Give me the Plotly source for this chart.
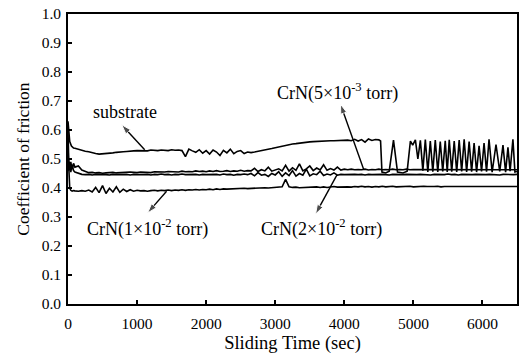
import plotly.graph_objects as go

# ---------------- data ----------------
sub_time = [0, 10, 25, 50, 80] + list(range(100, 4501, 50)) + [
    4525, 4545, 4600, 4650, 4712, 4770, 4850, 4910, 4957, 4990,
    5029, 5065, 5101, 5137, 5173, 5209, 5245, 5281, 5317, 5353,
    5389, 5425, 5461, 5490, 5519, 5555, 5591, 5627, 5663, 5699,
    5735, 5771, 5807, 5843, 5879, 5915, 5951, 5987, 6023, 6059,
    6095, 6140, 6196, 6250, 6297, 6335, 6369, 6400, 6441, 6470, 6500]
sub_cof = [0.63, 0.60, 0.56, 0.545, 0.538,
    0.537, 0.533, 0.531, 0.527, 0.525, 0.521, 0.519, 0.517, 0.518, 0.519,
    0.518, 0.521, 0.523, 0.523, 0.525, 0.526, 0.526, 0.528, 0.529,
    0.529, 0.530, 0.528, 0.531, 0.530, 0.529, 0.531, 0.530, 0.529, 0.532,
    0.530, 0.531, 0.529, 0.508, 0.534, 0.528, 0.523, 0.532, 0.520, 0.529,
    0.517, 0.531, 0.524, 0.512, 0.530, 0.521, 0.534, 0.518, 0.526, 0.529,
    0.519, 0.524, 0.522, 0.524, 0.526, 0.528, 0.531, 0.534, 0.536, 0.539,
    0.542, 0.545, 0.547, 0.550, 0.552, 0.553, 0.555, 0.556, 0.558, 0.559,
    0.560, 0.561, 0.561, 0.562, 0.562, 0.563, 0.563, 0.564, 0.564, 0.565,
    0.565, 0.563, 0.568, 0.562, 0.567, 0.558, 0.569, 0.564, 0.567, 0.566,
    0.562, 0.455, 0.452, 0.458, 0.565, 0.455, 0.452, 0.458, 0.562, 0.548,
    0.566, 0.500, 0.564, 0.460, 0.567, 0.455, 0.562, 0.456, 0.565, 0.455,
    0.560, 0.457, 0.563, 0.455, 0.566, 0.456, 0.562, 0.455, 0.565, 0.457,
    0.568, 0.455, 0.560, 0.456, 0.555, 0.455, 0.545, 0.457, 0.555, 0.456,
    0.568, 0.455, 0.550, 0.457, 0.548, 0.455, 0.540, 0.458, 0.568, 0.455, 0.457]

crn_time = [0, 10, 25, 40, 60, 80] + list(range(100, 6501, 50))

crn5_cof = [0.60, 0.50, 0.47, 0.49, 0.465, 0.485,
    0.472, 0.476, 0.462, 0.457, 0.453, 0.454, 0.452, 0.453, 0.451, 0.452,
    0.453, 0.454, 0.452, 0.453, 0.454, 0.453, 0.455, 0.454, 0.453,
    0.455, 0.454, 0.455, 0.453, 0.456, 0.455, 0.456, 0.455, 0.457, 0.456,
    0.457, 0.455, 0.458, 0.456, 0.457, 0.456, 0.459, 0.457, 0.458, 0.456,
    0.459, 0.457, 0.460, 0.457, 0.458, 0.460, 0.457, 0.459, 0.458, 0.461,
    0.458, 0.460, 0.459, 0.468, 0.457, 0.463, 0.459, 0.472, 0.458, 0.462,
    0.466, 0.459, 0.478, 0.458, 0.470, 0.461, 0.483, 0.459, 0.466, 0.476,
    0.460, 0.469, 0.462, 0.480, 0.461, 0.467, 0.462, 0.472, 0.462, 0.465,
    0.463, 0.465, 0.463, 0.464, 0.463, 0.465, 0.462, 0.464, 0.463, 0.465,
    0.463, 0.464, 0.463, 0.465, 0.463, 0.464, 0.463, 0.465, 0.463, 0.464,
    0.464, 0.463, 0.465, 0.463, 0.464, 0.463, 0.464, 0.465, 0.463, 0.464,
    0.463, 0.464, 0.465, 0.463, 0.464, 0.463, 0.464, 0.463, 0.465, 0.464,
    0.463, 0.464, 0.463, 0.465, 0.463, 0.464, 0.463, 0.464, 0.465, 0.463]

crn2_cof = [0.55, 0.46, 0.485, 0.455, 0.48, 0.46,
    0.455, 0.450, 0.447, 0.446, 0.447, 0.445, 0.447, 0.446, 0.447, 0.446,
    0.445, 0.447, 0.446, 0.447, 0.446, 0.447, 0.445, 0.447, 0.446,
    0.447, 0.446, 0.447, 0.445, 0.447, 0.446, 0.448, 0.446, 0.447, 0.445,
    0.447, 0.446, 0.448, 0.446, 0.447, 0.446, 0.447, 0.445, 0.447, 0.446,
    0.447, 0.446, 0.447, 0.445, 0.448, 0.446, 0.447, 0.444, 0.447, 0.446,
    0.448, 0.446, 0.450, 0.442, 0.453, 0.444, 0.447, 0.440, 0.450, 0.445,
    0.456, 0.440, 0.452, 0.443, 0.460, 0.441, 0.450, 0.444, 0.465, 0.442,
    0.449, 0.446, 0.458, 0.443, 0.448, 0.445, 0.452, 0.444, 0.447, 0.446,
    0.447, 0.446, 0.447, 0.446, 0.447, 0.445, 0.447, 0.446, 0.447, 0.446,
    0.447, 0.446, 0.445, 0.447, 0.446, 0.447, 0.446, 0.447, 0.446, 0.447,
    0.446, 0.447, 0.446, 0.447, 0.445, 0.447, 0.446, 0.447, 0.446, 0.448,
    0.446, 0.447, 0.445, 0.447, 0.446, 0.447, 0.446, 0.447, 0.446, 0.447,
    0.446, 0.447, 0.446, 0.447, 0.445, 0.447, 0.446, 0.447, 0.446, 0.447]

crn1_cof = [0.48, 0.478, 0.40, 0.392, 0.389, 0.391,
    0.390, 0.389, 0.391, 0.389, 0.393, 0.386, 0.402, 0.384, 0.408, 0.381,
    0.399, 0.386, 0.404, 0.385, 0.396, 0.388, 0.394, 0.389, 0.392,
    0.390, 0.391, 0.389, 0.391, 0.392, 0.390, 0.392, 0.391, 0.393, 0.391,
    0.393, 0.392, 0.394, 0.392, 0.394, 0.393, 0.395, 0.393, 0.395, 0.394,
    0.396, 0.394, 0.397, 0.395, 0.397, 0.396, 0.397, 0.398, 0.397, 0.398,
    0.399, 0.398, 0.399, 0.400, 0.399, 0.400, 0.401, 0.400, 0.401, 0.401,
    0.402, 0.404, 0.430, 0.404, 0.402, 0.403, 0.401, 0.402, 0.403, 0.402,
    0.403, 0.404, 0.402, 0.404, 0.402, 0.403, 0.405, 0.403, 0.404, 0.403,
    0.404, 0.403, 0.405, 0.404, 0.406, 0.404, 0.405, 0.403, 0.405, 0.404,
    0.406, 0.404, 0.405, 0.406, 0.404, 0.405, 0.404, 0.405, 0.406, 0.404,
    0.405, 0.404, 0.406, 0.405, 0.404, 0.405, 0.406, 0.404, 0.405, 0.405,
    0.406, 0.404, 0.405, 0.404, 0.406, 0.405, 0.405, 0.404, 0.406, 0.405,
    0.405, 0.404, 0.406, 0.405, 0.406, 0.404, 0.405, 0.405, 0.406, 0.405]

x_ticks = [0, 1000, 2000, 3000, 4000, 5000, 6000]
y_ticks = [0.0, 0.1, 0.2, 0.3, 0.4, 0.5, 0.6, 0.7, 0.8, 0.9, 1.0]

assert len(sub_time) == len(sub_cof), (len(sub_time), len(sub_cof))
for s in (crn5_cof, crn2_cof, crn1_cof):
    assert len(s) == len(crn_time), (len(s), len(crn_time))

# ---------------- figure ----------------
FONT = "Liberation Serif"
line_style = dict(color="black", width=1.6)

fig = go.Figure()
for name, xs, ys in [("substrate", sub_time, sub_cof),
                     ("CrN 5e-3", crn_time, crn5_cof),
                     ("CrN 2e-2", crn_time, crn2_cof),
                     ("CrN 1e-2", crn_time, crn1_cof)]:
    fig.add_trace(go.Scatter(x=xs, y=ys, mode="lines", name=name,
                             line=line_style, showlegend=False))

labels = [
    ("substrate", 822, 0.662),
    ("CrN(5×10<sup>-3</sup> torr)", 3906, 0.730),
    ("CrN(1×10<sup>-2</sup> torr)", 1153, 0.263),
    ("CrN(2×10<sup>-2</sup> torr)", 3668, 0.263),
]
for txt, x, y in labels:
    fig.add_annotation(x=x, y=y, text=txt, showarrow=False,
                       font=dict(family=FONT, size=18, color="black"))

# label pointers: tail on the curve, arrow head next to the label
pointers = [
    (1110, 0.532, 778, 0.618),
    (4281, 0.464, 3945, 0.689),
    (1427, 0.389, 1153, 0.314),
    (3896, 0.446, 3584, 0.310),
]
for tx, ty, hx, hy in pointers:
    fig.add_trace(go.Scatter(x=[tx, hx], y=[ty, hy], mode="lines+markers",
                             line=dict(color="black", width=1.4),
                             marker=dict(symbol="arrow", size=[0, 10],
                                         angleref="previous", color="black"),
                             showlegend=False, hoverinfo="skip"))

tick_font = dict(family=FONT, size=15.5, color="black")
fig.update_xaxes(range=[0, 6500], tickvals=x_ticks, ticks="inside", ticklen=4,
                 tickwidth=1.5, tickcolor="black", showline=True, mirror=True,
                 linecolor="black", linewidth=1.8, showgrid=False, zeroline=False,
                 ticklabelstandoff=4, tickfont=tick_font,
                 title=dict(text="Sliding Time (sec)", standoff=6,
                            font=dict(family=FONT, size=18.5, color="black")))
fig.update_yaxes(range=[0, 1.0], tickvals=y_ticks, tickformat=".1f", ticks="inside",
                 ticklen=4, tickwidth=1.5, tickcolor="black", showline=True,
                 mirror=True, linecolor="black", linewidth=1.8, showgrid=False,
                 zeroline=False, ticklabelstandoff=2, tickfont=tick_font,
                 title=dict(text="Coefficient of friction", standoff=8,
                            font=dict(family=FONT, size=17.5, color="black")))
fig.update_layout(width=524, height=356, margin=dict(l=68, r=5, t=11, b=52),
                  paper_bgcolor="white", plot_bgcolor="white")
fig.write_html("out.html")
